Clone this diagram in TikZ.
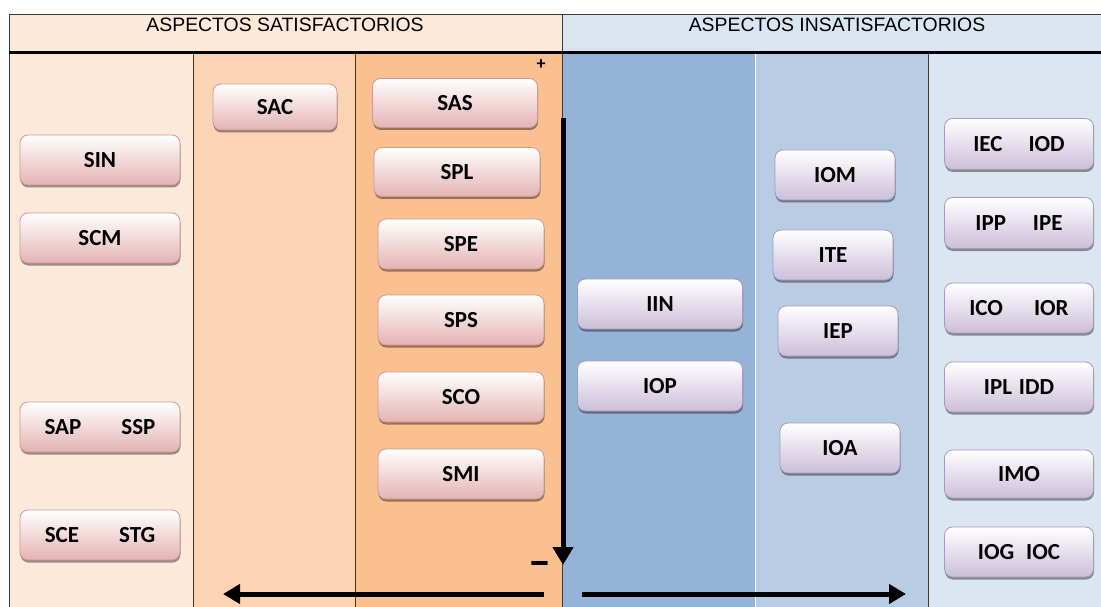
\documentclass[tikz,border=0pt]{standalone}
\usepackage{fontspec}
\setmainfont{Liberation Sans}
\newfontfamily\carl{Carlito}
\usetikzlibrary{arrows.meta,shadows}
\definecolor{cA}{HTML}{FDE9DA}
\definecolor{cB}{HTML}{FBD4B4}
\definecolor{cC}{HTML}{FAC08F}
\definecolor{cD}{HTML}{95B3D7}
\definecolor{cE}{HTML}{B8CCE4}
\definecolor{cF}{HTML}{DCE6F2}
\definecolor{hL}{HTML}{FDE9D9}
\definecolor{hR}{HTML}{DBE5F1}
\definecolor{pinkB}{HTML}{E4B3B2}
\definecolor{pinkD}{HTML}{CE9896}
\definecolor{lavB}{HTML}{CBBFD9}
\definecolor{lavD}{HTML}{A898BC}
\definecolor{gridc}{HTML}{3A3A3A}
\tikzset{
  box/.style={rounded corners=8pt, line width=0.8pt, inner sep=0pt,
    font=\carl\bfseries\fontsize{23}{26}\selectfont,
    drop shadow={shadow xshift=0.5pt, shadow yshift=-2.5pt, opacity=0.4, fill=black}},
  sbox/.style={box, draw=pinkD, top color=white, bottom color=pinkB},
  ibox/.style={box, draw=lavD, top color=white, bottom color=lavB},
  colline/.style={draw=gridc, line width=0.8pt},
  bigarrow/.style={line width=5pt, -{Triangle[width=20pt,length=18pt]}},
  hdr/.style={font=\fontsize{19.4}{22}\selectfont, text=black},
  sign/.style={font=\carl\bfseries\fontsize{#1}{#1}\selectfont, inner sep=0pt}
}
\begin{document}
\begin{tikzpicture}[x=1pt,y=-1pt]
\useasboundingbox[fill=white] (0,0) rectangle (1101,607);
% header
\fill[hL] (9,14) rectangle (562,53);
\fill[hR] (562,14) rectangle (1101,53);
% columns
\fill[cA] (9,53) rectangle (193,607);
\fill[cB] (193,53) rectangle (355,607);
\fill[cC] (355,53) rectangle (562,607);
\fill[cD] (562,53) rectangle (755,607);
\fill[cE] (755,53) rectangle (928,607);
\fill[cF] (928,53) rectangle (1101,607);
% lines
\draw[colline] (9,14) -- (1101,14);
\draw[colline] (9,14) -- (9,607);
\draw[colline] (562,14) -- (562,607);
\draw[colline] (193,53) -- (193,607);
\draw[colline] (355,53) -- (355,607);
\draw[draw=white, line width=0.8pt] (755,53) -- (755,607);
\draw[colline] (928,53) -- (928,607);
\draw[line width=3pt] (9,53) -- (1101,53);
% header texts
\node[hdr] (h1) at (285,25) {ASPECTOS SATISFACTORIOS};
\node[hdr] (h2) at (837,25) {ASPECTOS INSATISFACTORIOS};
% left column
\node[sbox, minimum width=160pt, minimum height=50pt] (SIN) at (100,160) {SIN};
\node[sbox, minimum width=160pt, minimum height=50pt] (SCM) at (100,238) {SCM};
\node[sbox, minimum width=160pt, minimum height=50pt] (SAP) at (100,427) {SAP\hspace{40pt}SSP};
\node[sbox, minimum width=160pt, minimum height=50pt] (SCE) at (100,535) {SCE\hspace{40pt}STG};
% column 2
\node[sbox, minimum width=124pt, minimum height=46pt] (SAC) at (275,107) {SAC};
% column 3
\node[sbox, minimum width=165pt, minimum height=49pt] (SAS) at (455,103) {SAS};
\node[sbox, minimum width=166pt, minimum height=49pt] (SPL) at (457,172) {SPL};
\node[sbox, minimum width=166pt, minimum height=50pt] (SPE) at (461,244) {SPE};
\node[sbox, minimum width=166pt, minimum height=50pt] (SPS) at (461,320) {SPS};
\node[sbox, minimum width=166pt, minimum height=50pt] (SCO) at (461,397) {SCO};
\node[sbox, minimum width=166pt, minimum height=50pt] (SMI) at (461,474) {SMI};
% column 4
\node[ibox, minimum width=165pt, minimum height=50pt] (IIN) at (660,304) {IIN};
\node[ibox, minimum width=165pt, minimum height=50pt] (IOP) at (660,386) {IOP};
% column 5
\node[ibox, minimum width=120pt, minimum height=50pt] (IOM) at (835,175) {IOM};
\node[ibox, minimum width=120pt, minimum height=50pt] (ITE) at (833,255) {ITE};
\node[ibox, minimum width=120pt, minimum height=50pt] (IEP) at (838,331) {IEP};
\node[ibox, minimum width=120pt, minimum height=50pt] (IOA) at (840,448) {IOA};
% column 6
\node[ibox, minimum width=149pt, minimum height=51pt] (IEC) at (1019,144) {IEC\hspace{26pt}IOD};
\node[ibox, minimum width=149pt, minimum height=51pt] (IPP) at (1019,223) {IPP\hspace{27pt}IPE};
\node[ibox, minimum width=149pt, minimum height=50pt] (ICO) at (1019,308) {ICO\hspace{31pt}IOR};
\node[ibox, minimum width=149pt, minimum height=50pt] (IPL) at (1019,387) {IPL\hspace{7pt}IDD};
\node[ibox, minimum width=149pt, minimum height=48pt] (IMO) at (1019,474) {IMO};
\node[ibox, minimum width=149pt, minimum height=50pt] (IOG) at (1019,552) {IOG\hspace{12pt}IOC};
% signs
\node[sign=18] (plus) at (541,65) {+};
\node[sign=46] (minus) at (540,569) {–};
% arrows
\coordinate (vtop) at (563,118);
\coordinate (vbot) at (563,565);
\draw[bigarrow] (vtop) -- (vbot);
\coordinate (lstart) at (544,594);
\coordinate (lend) at (223,594);
\draw[bigarrow, -{Triangle[width=19pt,length=17pt]}] (lstart) -- (lend);
\coordinate (rstart) at (582,594);
\coordinate (rend) at (906,594);
\draw[bigarrow, -{Triangle[width=19pt,length=17pt]}] (rstart) -- (rend);
\end{tikzpicture}
\end{document}
